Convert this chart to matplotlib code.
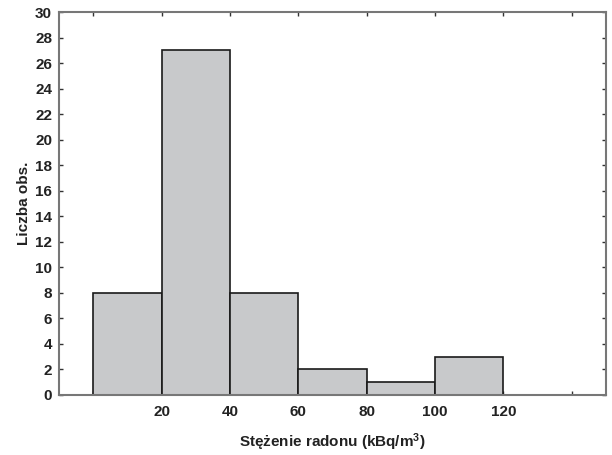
import matplotlib.pyplot as plt

# histogram classes (kBq/m3) and counts
bin_left = [0, 20, 40, 60, 80, 100, 120]
counts = [8, 27, 8, 2, 1, 3, 0]
bin_width = 20
xticks = [0, 20, 40, 60, 80, 100, 120, 140]
xtick_labels = ['', '20', '40', '60', '80', '100', '120', '']
yticks = list(range(0, 31, 2))

plt.rcParams['font.family'] = ['Liberation Sans', 'DejaVu Sans']
plt.rcParams['font.weight'] = 'bold'
plt.rcParams['mathtext.fontset'] = 'custom'
plt.rcParams['mathtext.rm'] = 'Liberation Sans:bold'
plt.rcParams['mathtext.it'] = 'Liberation Sans:bold'
plt.rcParams['mathtext.bf'] = 'Liberation Sans:bold'

fig = plt.figure(figsize=(6.12, 4.55), dpi=100)
ax = fig.add_axes([59 / 612, 1 - 395 / 455, (606 - 59) / 612, (395 - 12) / 455])

ax.bar(bin_left, counts, width=bin_width, align='edge',
       color='#c8c9cb', edgecolor='#1a1a1a', linewidth=1.2, zorder=2)

ax.set_xlim(-10, 150)
ax.set_ylim(0, 30)
ax.set_xticks(xticks)
ax.set_xticklabels(xtick_labels)
ax.set_yticks(yticks)

ax.tick_params(direction='in', length=3, width=1, color='#333333',
               labelsize=11, labelcolor='#222222',
               top=True, right=True, pad=5)
ax.tick_params(axis='x', pad=7)

for s in ax.spines.values():
    s.set_color('#777777')
    s.set_linewidth(1.5)

ax.set_xlabel('Stężenie radonu (kBq/m$^3$)', fontsize=11,
              fontweight='bold', color='#222222', labelpad=9)
ax.set_ylabel('Liczba obs.', fontsize=11, fontweight='bold',
              color='#222222', labelpad=3)

fig.savefig('out.png', dpi=100)
